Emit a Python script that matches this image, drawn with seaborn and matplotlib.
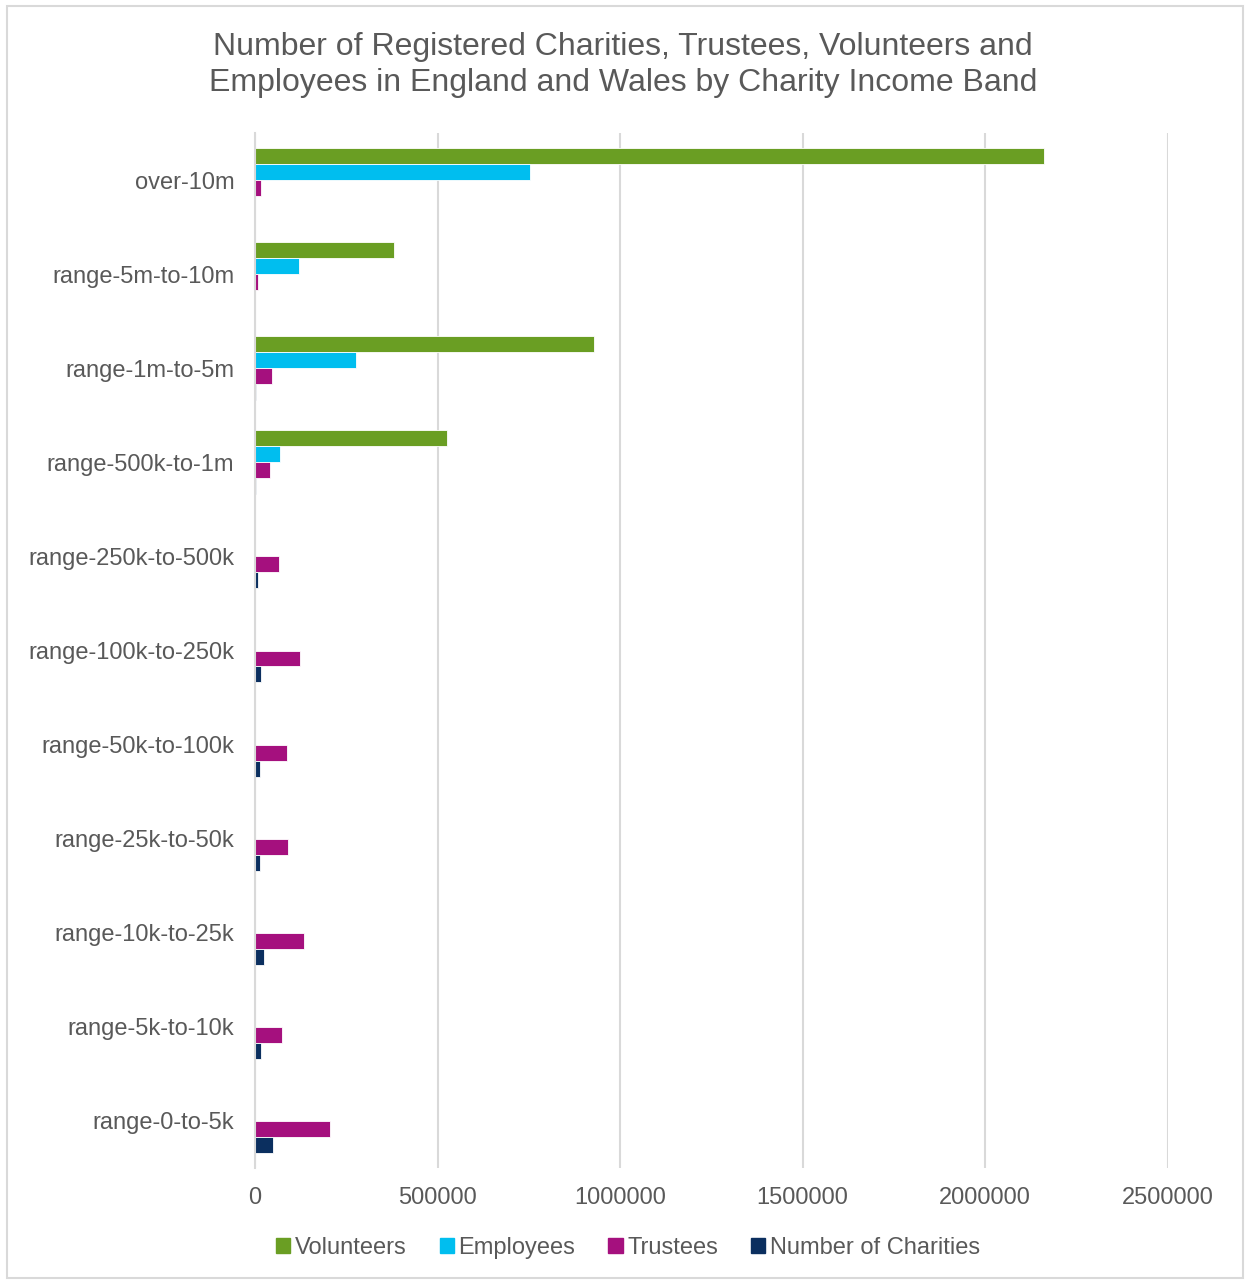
import pandas as pd
import matplotlib.pyplot as plt
import seaborn as sns
from matplotlib.patches import Rectangle

"""
Registered charities, trustees, volunteers and employees by income band.
"""
# Data
bands = ["over-10m", "range-5m-to-10m", "range-1m-to-5m", "range-500k-to-1m",
         "range-250k-to-500k", "range-100k-to-250k", "range-50k-to-100k",
         "range-25k-to-50k", "range-10k-to-25k", "range-5k-to-10k", "range-0-to-5k"]
volunteers = [2162000, 381000, 929000, 526000, 0, 0, 0, 0, 0, 0, 0]
employees = [753000, 121000, 277000, 68000, 0, 0, 0, 0, 0, 0, 0]
trustees = [17000, 8000, 47000, 41000, 66000, 123000, 87000, 91000, 133000, 75000, 206000]
charities = [800, 1000, 3000, 2500, 7000, 16400, 12800, 15000, 23800, 15600, 49300]

series = ["Volunteers", "Employees", "Trustees", "Number of Charities"]
colours = {"Volunteers": "#6A9E23", "Employees": "#00BEEF",
           "Trustees": "#A5107E", "Number of Charities": "#0B2F5F"}

df = pd.concat([
    pd.DataFrame({"band": bands, "value": vals, "series": name})
    for name, vals in zip(series, [volunteers, employees, trustees, charities])
])

grey = "#595959"
plt.rcParams["font.family"] = ["Liberation Sans", "DejaVu Sans"]

fig = plt.figure(figsize=(12.46, 12.81), dpi=100)
ax = fig.add_axes([255 / 1246, 1 - 1168 / 1281, (1167.5 - 255) / 1246, (1168 - 133) / 1281])

sns.barplot(data=df, y="band", x="value", hue="series", order=bands, hue_order=series,
            palette=colours, saturation=1, orient="h", width=0.68, gap=0, ax=ax,
            edgecolor="white", linewidth=0.6, legend=False)

ax.set_xlim(0, 2500000)
ax.set_ylim(10.5, -0.5)
ax.set_xticks([0, 500000, 1000000, 1500000, 2000000, 2500000])
ax.set_xticklabels(["0", "500000", "1000000", "1500000", "2000000", "2500000"])
ax.set_xlabel(None)
ax.set_ylabel(None)
ax.grid(axis="x", color="#D9D9D9", linewidth=1.5)
ax.set_axisbelow(True)
for side in ["top", "right", "bottom"]:
    ax.spines[side].set_visible(False)
ax.spines["left"].set_color("#D9D9D9")
ax.spines["left"].set_linewidth(1.5)
ax.tick_params(axis="both", length=0, labelsize=17, labelcolor=grey)
ax.tick_params(axis="y", pad=15)
ax.tick_params(axis="x", pad=14)

fig.text(0.5, 1 - 65 / 1281,
         "Number of Registered Charities, Trustees, Volunteers and\n"
         "Employees in England and Wales by Charity Income Band",
         ha="center", va="center", fontsize=23, color=grey, linespacing=1.25)

handles = [Rectangle((0, 0), 1, 1, color=colours[s]) for s in series]
fig.legend(handles, series, loc="center", bbox_to_anchor=(0.5 + 5 / 1246, 1 - 1248 / 1281), ncol=4,
           frameon=False, fontsize=17, labelcolor=grey, handlelength=0.6, handleheight=0.6,
           handletextpad=0.2, columnspacing=1.4)

# chart border
fig.patches.append(Rectangle((7 / 1246, 3 / 1281), 1236 / 1246, 1272 / 1281,
                             transform=fig.transFigure, fill=False,
                             edgecolor="#D9D9D9", linewidth=1.5))

plt.savefig("out.png", dpi=100)
plt.close()
